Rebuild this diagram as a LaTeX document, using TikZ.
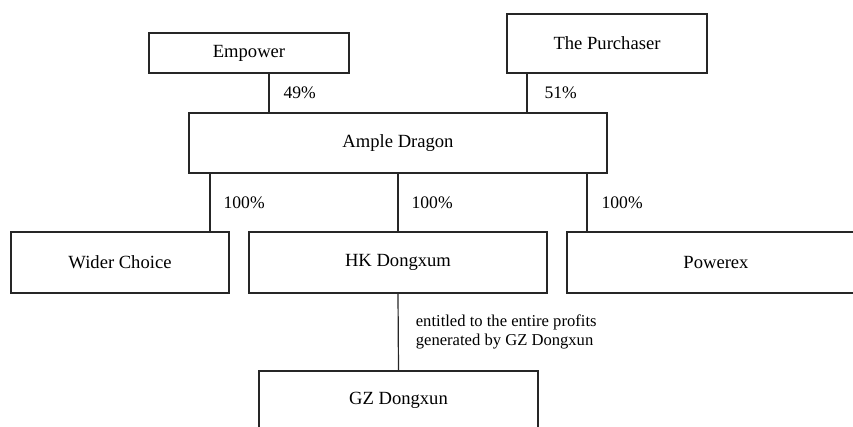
\documentclass[tikz,border=0pt]{standalone}
\usepackage{fontspec}
\setmainfont{Liberation Serif}
\usetikzlibrary{positioning}

\begin{document}
\begin{tikzpicture}[x=0.5pt, y=-0.5pt,
    entitybox/.style = {rectangle, draw=black!85, line width=0.6pt, inner sep=0pt, font=\fontsize{9.3}{11}\selectfont},
    sharelabel/.style = {anchor=west, inner sep=0pt, font=\fontsize{8.8}{9.2}\selectfont, align=left},
    link/.style = {draw=black!85, line width=0.6pt}
]
\clip (0,0) rectangle (853,427);

% Tier 1: owners
\node (empower) [entitybox, minimum width=100pt, minimum height=20pt] at (249,53) {Empower};
\node (purchaser) [entitybox, minimum width=100pt, minimum height=29.5pt] at (607,43.5) {The Purchaser};

% Tier 2: holding company
\node (ample) [entitybox, minimum width=209pt, minimum height=30pt] at (398,143) {Ample Dragon};

% Tier 3: subsidiaries
\node (wider) [entitybox, minimum width=109pt, minimum height=30.5pt] at (120,262.5) {Wider Choice};
\node (hk) [entitybox, minimum width=149pt, minimum height=30.5pt] at (398,262.5) {HK Dongxum};
\node (powerex) [entitybox, minimum width=149pt, minimum height=30.5pt] at (716,262.5) {Powerex};

% Tier 4: operating company
\node (gz) [entitybox, minimum width=139.5pt, minimum height=29.5pt] at (398.5,400.5) {GZ Dongxun};

% Shareholdings
\draw [link] ([xshift=10pt]empower.south) -- node[sharelabel, xshift=7pt]{49\%} ([xshift=10pt]empower.south |- ample.north);
\draw [link] ([xshift=-40pt]purchaser.south) -- node[sharelabel, xshift=8.5pt]{51\%} ([xshift=-40pt]purchaser.south |- ample.north);

\draw [link] ([xshift=-94pt]ample.south) -- node[sharelabel, xshift=6.5pt]{100\%} ([xshift=-94pt]ample.south |- wider.north);
\draw [link] (ample.south) -- node[sharelabel, xshift=6.5pt]{100\%} (hk.north);
\draw [link] ([xshift=94.5pt]ample.south) -- node[sharelabel, xshift=7pt]{100\%} ([xshift=94.5pt]ample.south |- powerex.north);

\draw [link] (hk.south) -- node[sharelabel, xshift=8.5pt, font=\fontsize{8.3}{9.2}\selectfont]{entitled to the entire profits\\generated by GZ Dongxun} (gz.north);

\end{tikzpicture}
\end{document}
